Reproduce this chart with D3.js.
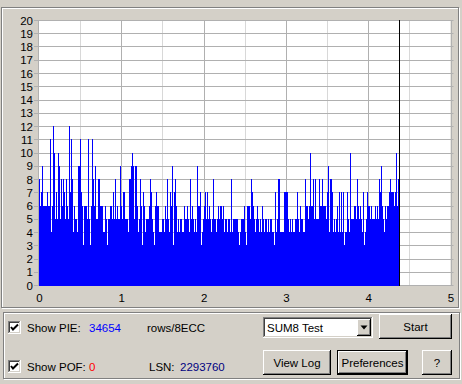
<!DOCTYPE html>
<html>
<head>
<meta charset="utf-8">
<script src="https://cdn.jsdelivr.net/npm/d3@7"></script>
<style>
    body { margin: 0; background: #d4d0c8; }
    svg { display: block; font-family: "Liberation Sans", Arial, sans-serif; }
</style>
</head>
<body>
<div id="app"></div>
<script>
'use strict';

// Axis ticks
const yTicks = d3.range(0, 21);
const xTicks = [0, 1, 2, 3, 4, 5];
const xHalfTicks = [0.5, 1.5, 2.5, 3.5, 4.5];

// Position reached by the scan (GB)
const scanEnd = 4.375;

// PIE per 8 ECC blocks, one value per sample column
const pieValues = [
    8,6,7,9,6,6,6,6,7,6, 6,11,4,6,12,10,5,7,5,10,
    9,5,8,6,8,7,5,8,6,5, 12,7,11,8,4,6,5,5,4,9,
    9,11,7,6,3,6,6,6,5,11, 5,3,6,11,8,6,9,5,5,8,
    8,6,6,6,4,4,6,5,3,5, 5,6,6,5,7,5,8,5,6,5,
    5,9,6,5,7,7,5,5,5,4, 8,8,9,10,9,5,9,9,6,4,
    5,8,6,3,7,6,4,5,5,5, 6,8,7,5,4,3,6,7,6,6,
    4,4,4,5,5,4,6,5,8,5, 4,7,6,9,3,7,8,6,4,5,
    4,5,5,4,4,6,5,5,6,5, 4,8,5,6,5,4,5,4,9,6,
    6,7,3,4,5,6,7,5,7,5, 6,5,4,5,8,5,5,4,5,6,
    5,6,6,5,6,4,5,5,4,5, 5,4,8,4,5,5,5,5,5,4,
    3,4,5,5,5,6,4,3,6,6, 6,5,8,7,6,5,4,5,6,5,
    4,5,4,6,5,4,5,5,4,5, 4,5,5,4,4,3,7,4,5,8,
    8,4,4,4,4,7,7,7,7,5, 4,5,4,5,4,4,5,5,7,5,
    4,6,5,5,4,4,8,6,6,5, 6,10,6,6,8,5,8,5,5,5,
    8,6,6,8,6,6,6,5,7,9, 4,8,8,7,4,5,4,5,6,4,
    7,4,7,4,7,3,4,4,7,5, 4,10,5,5,5,6,6,5,8,6,
    5,6,5,4,7,3,4,5,7,6, 6,5,6,5,5,5,6,5,6,5,
    8,7,9,6,5,4,6,5,6,6, 7,8,7,7,7,6,7,10,6,8
];

// Status texts
const pieTotal = '34654';
const pofTotal = '0';
const lsnValue = '2293760';
const testModes = ['SUM8 Test'];
const buttonLabels = ['Start', 'View Log', 'Preferences', '?'];

/*
Scan chart
 */
class ScanChart {

    // Elements
    svg = null;

    // Configs
    svgW = 462;
    svgH = 384;
    plot = {left: 39, right: 450.5, top: 20, bottom: 285};
    face = '#d4d0c8';

    // Tools
    xScale = d3.scaleLinear().domain([0, 5]);
    yScale = d3.scaleLinear().domain([0, 20]);

    constructor(_target) {
        this.target = _target;
        this.init();
    }

    /*
    1. Init
     */
    init() {
        const vis = this;

        vis.svg = d3.select(`#${vis.target}`)
            .append('svg')
            .attr('width', vis.svgW)
            .attr('height', vis.svgH)
            .style('background', vis.face);

        vis.xScale.range([vis.plot.left, vis.plot.right]);
        vis.yScale.range([vis.plot.bottom, vis.plot.top]);

        // Group boxes
        vis.etched(vis.svg, 1, 7, 459, 302);
        vis.etched(vis.svg, 3, 312, 458, 68);

        vis.chartG = vis.svg.append('g').attr('class', 'chartG');
        vis.panelG = vis.svg.append('g').attr('class', 'panelG');

        vis.renderChart();
        vis.renderPanel();
    }

    /*
    2. Chart
     */
    renderChart() {
        const vis = this;
        const g = vis.chartG;
        const x = vis.xScale;
        const y = vis.yScale;

        // White plot board
        g.append('rect')
            .attr('x', vis.plot.left)
            .attr('y', vis.plot.top)
            .attr('width', vis.plot.right - vis.plot.left)
            .attr('height', vis.plot.bottom - vis.plot.top)
            .attr('fill', '#fff');

        // Vertical grid, light on halves
        g.selectAll('.vHalf')
            .data(xHalfTicks)
            .join('line')
            .attr('class', 'vHalf')
            .attr('x1', d => Math.round(x(d)) + 0.5)
            .attr('x2', d => Math.round(x(d)) + 0.5)
            .attr('y1', vis.plot.top)
            .attr('y2', vis.plot.bottom)
            .attr('stroke', '#d8d8d8');
        g.selectAll('.vMajor')
            .data(xTicks.slice(1))
            .join('line')
            .attr('class', 'vMajor')
            .attr('x1', d => Math.round(x(d)) + 0.5)
            .attr('x2', d => Math.round(x(d)) + 0.5)
            .attr('y1', vis.plot.top)
            .attr('y2', vis.plot.bottom)
            .attr('stroke', '#b0b0b0');

        // Horizontal grid, with small ticks out on both sides
        g.selectAll('.hLine')
            .data(yTicks)
            .join('line')
            .attr('class', 'hLine')
            .attr('x1', vis.plot.left - 5)
            .attr('x2', vis.plot.right + 3)
            .attr('y1', d => Math.round(y(d)) + 0.5)
            .attr('y2', d => Math.round(y(d)) + 0.5)
            .attr('stroke', '#b0b0b0');

        // Left border
        g.append('line')
            .attr('x1', vis.plot.left - 0.5)
            .attr('x2', vis.plot.left - 0.5)
            .attr('y1', vis.plot.top)
            .attr('y2', vis.plot.bottom + 1)
            .attr('stroke', '#b0b0b0');

        // PIE bars
        const step = scanEnd / pieValues.length;
        g.append('g')
            .attr('class', 'bars')
            .attr('shape-rendering', 'crispEdges')
            .selectAll('rect')
            .data(pieValues)
            .join('rect')
            .attr('x', (d, i) => Math.round(x(i * step)))
            .attr('width', (d, i) => Math.round(x((i + 1) * step)) - Math.round(x(i * step)))
            .attr('y', d => Math.round(y(d)))
            .attr('height', d => Math.round(y(0)) - Math.round(y(d)) + 1)
            .attr('fill', '#0000ff');

        // Current position marker
        g.append('line')
            .attr('x1', Math.round(x(scanEnd)) + 0.5)
            .attr('x2', Math.round(x(scanEnd)) + 0.5)
            .attr('y1', y(20))
            .attr('y2', y(0) + 1)
            .attr('stroke', '#000');

        // Axes labels
        const yAxis = d3.axisLeft(y).tickValues(yTicks).tickSize(0).tickPadding(6)
            .tickFormat(d3.format('d'));
        const yAxisG = g.append('g')
            .attr('transform', `translate(${vis.plot.left},0.5)`)
            .call(yAxis);
        const xAxis = d3.axisBottom(x).tickValues(xTicks).tickSize(0).tickPadding(9)
            .tickFormat(d3.format('d'));
        const xAxisG = g.append('g')
            .attr('transform', `translate(0,${vis.plot.bottom})`)
            .call(xAxis);
        [yAxisG, xAxisG].forEach(a => {
            a.select('.domain').remove();
            a.selectAll('text')
                .attr('fill', '#000')
                .style('font-size', '11.5px')
                .style('font-family', '"Liberation Sans", Arial, sans-serif');
        });
    }

    /*
    3. Controls panel
     */
    renderPanel() {
        const vis = this;
        const g = vis.panelG;

        // Checkboxes
        vis.checkbox(g, 8, 321);
        vis.checkbox(g, 8, 360);

        vis.label(g, 27, 332, 'Show PIE:', '#000');
        vis.label(g, 89, 332, pieTotal, '#0000ff');
        vis.label(g, 147, 332, 'rows/8ECC', '#000');
        vis.label(g, 27, 371, 'Show POF:', '#000');
        vis.label(g, 89, 371, pofTotal, '#ff0000');
        vis.label(g, 149, 371, 'LSN:', '#000');
        vis.label(g, 180, 371, lsnValue, '#000080');

        // Combo box
        vis.sunken(g, 263, 317, 110, 21);
        vis.label(g, 267, 332, testModes[0], '#000');
        vis.raised(g, 357, 319, 14, 17);
        g.append('path')
            .attr('d', 'M360.5,325.5 h7 l-3.5,4 z')
            .attr('fill', '#000');

        // Buttons
        const btns = [
            {x: 379, y: 314, w: 73, h: 25, def: false},
            {x: 263, y: 350, w: 68, h: 25, def: false},
            {x: 337, y: 350, w: 71, h: 25, def: true},
            {x: 422, y: 350, w: 30, h: 25, def: false}
        ];
        btns.forEach((b, i) => {
            vis.raised(g, b.x, b.y, b.w, b.h, b.def);
            g.append('text')
                .attr('x', b.x + b.w / 2)
                .attr('y', b.y + b.h / 2 + 4)
                .attr('text-anchor', 'middle')
                .style('font-size', '11.5px')
                .attr('fill', '#000')
                .text(buttonLabels[i]);
        });
    }

    // Helpers
    label(g, x, y, text, color) {
        g.append('text')
            .attr('x', x)
            .attr('y', y)
            .attr('fill', color)
            .style('font-size', '11.5px')
            .text(text);
    }

    hline(g, x1, x2, y, c) {
        g.append('line').attr('x1', x1).attr('x2', x2).attr('y1', y + 0.5).attr('y2', y + 0.5).attr('stroke', c);
    }

    vline(g, x, y1, y2, c) {
        g.append('line').attr('x1', x + 0.5).attr('x2', x + 0.5).attr('y1', y1).attr('y2', y2).attr('stroke', c);
    }

    etched(g, x, y, w, h) {
        g.append('rect')
            .attr('x', x + 1.5).attr('y', y + 1.5)
            .attr('width', w - 2).attr('height', h - 2)
            .attr('fill', 'none').attr('stroke', '#fff');
        g.append('rect')
            .attr('x', x + 0.5).attr('y', y + 0.5)
            .attr('width', w - 2).attr('height', h - 2)
            .attr('fill', 'none').attr('stroke', '#808080');
    }

    sunken(g, x, y, w, h) {
        const vis = this;
        g.append('rect').attr('x', x).attr('y', y).attr('width', w).attr('height', h).attr('fill', '#fff');
        vis.hline(g, x, x + w, y, '#808080');
        vis.vline(g, x, y, y + h, '#808080');
        vis.hline(g, x + 1, x + w - 1, y + 1, '#404040');
        vis.vline(g, x + 1, y + 1, y + h - 1, '#404040');
        vis.hline(g, x, x + w, y + h - 1, '#fff');
        vis.vline(g, x + w - 1, y, y + h, '#fff');
        vis.hline(g, x + 1, x + w - 1, y + h - 2, vis.face);
        vis.vline(g, x + w - 2, y + 1, y + h - 1, vis.face);
    }

    raised(g, x, y, w, h, isDefault) {
        const vis = this;
        if (isDefault) {
            g.append('rect')
                .attr('x', x + 0.5).attr('y', y + 0.5)
                .attr('width', w - 1).attr('height', h - 1)
                .attr('fill', vis.face).attr('stroke', '#000');
            x += 1; y += 1; w -= 2; h -= 2;
        }
        g.append('rect').attr('x', x).attr('y', y).attr('width', w).attr('height', h).attr('fill', vis.face);
        vis.hline(g, x, x + w - 1, y, '#fff');
        vis.vline(g, x, y, y + h - 1, '#fff');
        vis.hline(g, x, x + w, y + h - 1, '#000');
        vis.vline(g, x + w - 1, y, y + h, '#000');
        vis.hline(g, x + 1, x + w - 1, y + h - 2, '#808080');
        vis.vline(g, x + w - 2, y + 1, y + h - 1, '#808080');
    }

    checkbox(g, x, y) {
        const vis = this;
        vis.sunken(g, x, y, 13, 13);
        g.append('path')
            .attr('d', `M${x + 3},${y + 6} L${x + 5},${y + 8.5} L${x + 10},${y + 3.5}`)
            .attr('fill', 'none')
            .attr('stroke', '#000')
            .attr('stroke-width', 2);
    }
}

new ScanChart('app');
</script>
</body>
</html>
